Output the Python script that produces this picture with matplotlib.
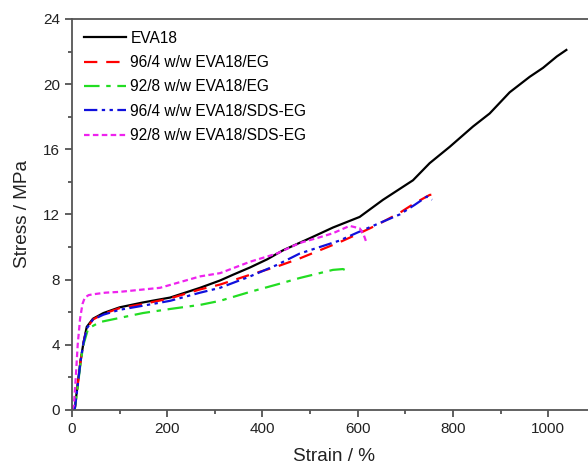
"""
    Stress-strain curves for EVA18 and its EG / SDS-EG blends
"""

import matplotlib
matplotlib.use("Agg")
import matplotlib.pyplot as plt
from matplotlib.ticker import MultipleLocator

plt.rcParams["font.family"] = ["Liberation Sans", "DejaVu Sans"]

labels = ["EVA18", "96/4 w/w EVA18/EG", "92/8 w/w EVA18/EG",
          "96/4 w/w EVA18/SDS-EG", "92/8 w/w EVA18/SDS-EG"]

# strain (%) / stress (MPa)
eva_x = [0, 6, 12, 18, 24, 31, 44, 66, 100, 149, 206, 269, 311, 338, 374, 410,
         443, 500, 548, 604, 653, 716, 751, 793, 842, 877, 919, 961, 989, 1018, 1038]
eva_y = [0, 0.1, 1.6, 3.0, 4.1, 5.1, 5.6, 5.95, 6.3, 6.6, 6.9, 7.5, 7.95, 8.3, 8.75,
         9.25, 9.8, 10.55, 11.2, 11.85, 12.9, 14.1, 15.15, 16.15, 17.4, 18.2, 19.5,
         20.45, 21.0, 21.7, 22.1]

eg4_x = [0, 6, 12, 18, 24, 31, 44, 66, 100, 149, 206, 269, 311, 374, 430, 478,
         520, 562, 600, 640, 688, 720, 751, 766]
eg4_y = [0, 0.1, 1.5, 3.0, 4.1, 5.0, 5.55, 5.9, 6.25, 6.5, 6.85, 7.4, 7.7, 8.3,
         8.8, 9.3, 9.8, 10.3, 10.8, 11.35, 12.1, 12.7, 13.2, 13.25]

eg8_x = [0, 6, 12, 18, 24, 34, 59, 100, 149, 206, 269, 311, 374, 430, 478,
         520, 548, 569, 580]
eg8_y = [0, 0.1, 1.4, 2.9, 4.0, 5.0, 5.4, 5.65, 5.95, 6.2, 6.45, 6.7, 7.25,
         7.7, 8.1, 8.4, 8.6, 8.65, 8.5]

sds4_x = [0, 6, 12, 18, 24, 31, 44, 66, 100, 149, 206, 269, 311, 374, 430, 478,
          520, 562, 600, 640, 688, 720, 745, 756]
sds4_y = [0, 0.1, 1.5, 3.0, 4.1, 5.0, 5.55, 5.85, 6.15, 6.4, 6.7, 7.2, 7.5, 8.2,
          8.9, 9.6, 10.0, 10.4, 10.9, 11.4, 12.0, 12.6, 13.1, 12.9]

sds8_x = [0, 4, 8, 12, 17, 22, 27, 35, 44, 70, 100, 185, 269, 311, 374, 430,
          478, 520, 548, 583, 604, 612, 618]
sds8_y = [0, 0.3, 2.0, 4.0, 5.6, 6.5, 6.9, 7.05, 7.1, 7.2, 7.25, 7.5, 8.2, 8.4,
          9.1, 9.6, 10.25, 10.6, 10.85, 11.3, 11.15, 10.8, 10.3]

series = [(eva_x, eva_y), (eg4_x, eg4_y), (eg8_x, eg8_y),
          (sds4_x, sds4_y), (sds8_x, sds8_y)]
colors = ["black", "red", "#22dd22", "#1010dd", "#ee22ee"]
styles = ["-", (0, (6, 4)), (0, (7, 3, 2, 3)), (0, (6, 2, 1.5, 2, 1.5, 2)), (0, (2.5, 1.5))]

fig = plt.figure(figsize=(5.88, 4.70), dpi=100)
ax = fig.add_axes([0.1224, 0.1277, 0.891, 0.8319])

for (x, y), lab, c, ls in zip(series, labels, colors, styles):
    ax.plot(x, y, color=c, ls=ls, lw=1.6, label=lab)

ax.set_xlim(0, 1100)
ax.set_ylim(0, 24)
ax.xaxis.set_major_locator(MultipleLocator(200))
ax.xaxis.set_minor_locator(MultipleLocator(100))
ax.yaxis.set_major_locator(MultipleLocator(4))
ax.yaxis.set_minor_locator(MultipleLocator(2))
ax.tick_params(which="both", direction="out", color="#444444", labelcolor="#222222",
               labelsize=11, width=1.2)
ax.tick_params(which="major", length=5)
ax.tick_params(which="minor", length=3)
for sp in ax.spines.values():
    sp.set_color("#555555")
    sp.set_linewidth(1.3)

ax.set_xlabel("Strain / %", fontsize=13.7, color="#222222", labelpad=9)
ax.set_ylabel("Stress / MPa", fontsize=13.7, color="#222222", labelpad=9)

ax.legend(loc="upper left", frameon=False, fontsize=11.2, handlelength=2.7,
          handletextpad=0.3, labelspacing=0.6, borderaxespad=0.35,
          bbox_to_anchor=(0.0, 1.0))

fig.savefig("out.png", dpi=100)
